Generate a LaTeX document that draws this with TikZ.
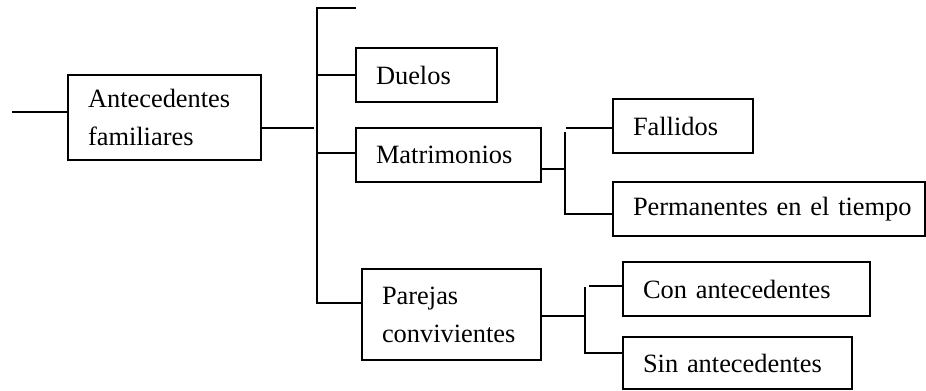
\documentclass[tikz,border=0pt]{standalone}
\usepackage{fontspec}
\setmainfont{Liberation Serif}
\begin{document}
\begin{tikzpicture}[x=0.75pt,y=-0.75pt,
  box/.style={draw, line width=1.1pt, align=left, inner xsep=15pt, inner ysep=0pt,
    font=\fontsize{19.8pt}{28.5pt}\selectfont},
  conn/.style={line width=1.1pt}]
\useasboundingbox (0,0) rectangle (926,390);
% boxes
\node[box, text width=114.75pt, minimum height=63.75pt] (main) at (164.5,117.5) {Antecedentes\\familiares};
\node[box, text width=75.75pt, minimum height=40.5pt] (duelos) at (426.5,75) {Duelos};
\node[box, text width=108.75pt, minimum height=40.5pt] (matri) at (448.5,155) {Matrimonios};
\node[box, text width=75pt, minimum height=40.5pt] (fall) at (683,126) {Fallidos};
\node[box, text width=204pt, minimum height=40.5pt] (perm) at (769,209) {\makebox[\linewidth][l]{Permanentes en el tiempo}};
\node[box, text width=104.25pt, minimum height=68.25pt] (parejas) at (451.5,314.5) {Parejas\\convivientes};
\node[box, text width=155.25pt, minimum height=40.5pt] (con) at (746.5,289) {Con antecedentes};
\node[box, text width=141.75pt, minimum height=39pt] (sin) at (737.5,363) {Sin antecedentes};
% coordinates
\coordinate (l0) at (12,112);
\coordinate (m1) at (314,128);
\coordinate (vtop) at (317,8);
\coordinate (stub) at (356,8);
\coordinate (vbot) at (317,303);
\coordinate (ma) at (565,169);
\coordinate (mtop) at (565,132);
\coordinate (mfall) at (566,128);
\coordinate (mbot) at (565,214);
\coordinate (pa) at (585,316);
\coordinate (ptop) at (585,287);
\coordinate (pcon) at (589,286);
\coordinate (pbot) at (585,353);
% connectors
\draw[conn] (l0) -- (l0 -| main.west);
\draw[conn] (main.east |- m1) -- (m1);
\draw[conn] (stub) -- (vtop) -- (vbot) -- (vbot -| parejas.west);
\draw[conn] (vtop |- duelos.west) -- (duelos.west);
\draw[conn] (317,153) -- (317,153 -| matri.west);
\draw[conn] (matri.east |- ma) -- (ma);
\draw[conn] (mtop) -- (mbot) -- (mbot -| perm.west);
\draw[conn] (mfall) -- (mfall -| fall.west);
\draw[conn] (parejas.east |- pa) -- (pa);
\draw[conn] (ptop) -- (pbot) -- (pbot -| sin.west);
\draw[conn] (pcon) -- (pcon -| con.west);
\end{tikzpicture}
\end{document}
